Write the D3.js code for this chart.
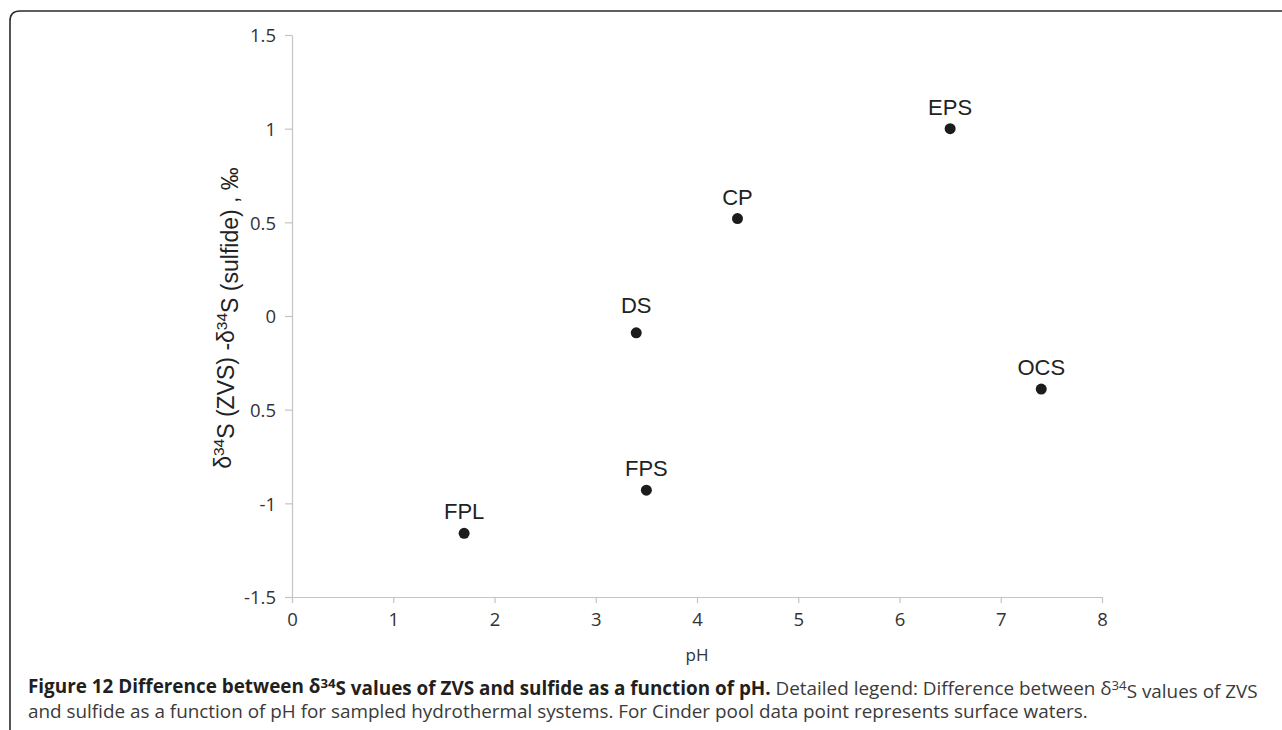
<!DOCTYPE html>
<html>
<head>
<meta charset="utf-8">
<script src="https://cdn.jsdelivr.net/npm/d3@7"></script>
<style>
  html, body { margin: 0; padding: 0; background: #fff; }
  svg { display: block; }
</style>
</head>
<body>
<div id="chart"></div>
<script>
// sampled hydrothermal systems
const sites = ['FPL', 'FPS', 'DS', 'CP', 'EPS', 'OCS'];
const phValues = [1.7, 3.5, 3.4, 4.4, 6.5, 7.4];
const deltaValues = [-1.16, -0.93, -0.09, 0.52, 1.0, -0.39];

// axis ticks (the original chart drops the minus sign on -0.5)
const xTicks = [0, 1, 2, 3, 4, 5, 6, 7, 8];
const yTicks = [1.5, 1, 0.5, 0, -0.5, -1, -1.5];
const yTickLabels = ['1.5', '1', '0.5', '0', '0.5', '-1', '-1.5'];

const WIDTH = 1282;
const HEIGHT = 730;

const svg = d3.select('#chart')
  .append('svg')
  .attr('width', WIDTH)
  .attr('height', HEIGHT);

// frame round the figure (only top and left edges show)
svg.append('path')
  .attr('d', 'M10,740 L10,21 Q10,11 20,11 L1290,11')
  .attr('fill', 'none')
  .attr('stroke', '#2b2b2b')
  .attr('stroke-width', 1.6);

const x = d3.scaleLinear().domain([0, 8]).range([292, 1102]);
const y = d3.scaleLinear().domain([-1.5, 1.5]).range([597, 35]);

const axisColor = '#c4c4c4';
const tickFont = '"Open Sans", "Segoe UI", sans-serif';

// x axis
const xAxis = svg.append('g')
  .attr('transform', `translate(0,${y(-1.5)})`)
  .call(d3.axisBottom(x).tickValues(xTicks).tickFormat(d3.format('d')).tickSize(6).tickSizeOuter(0).tickPadding(6));

// y axis
const yAxis = svg.append('g')
  .attr('transform', `translate(${x(0)},0)`)
  .call(d3.axisLeft(y).tickValues(yTicks)
    .tickFormat((d, i) => yTickLabels[i])
    .tickSize(7).tickSizeOuter(0).tickPadding(9));

[xAxis, yAxis].forEach(g => {
  g.select('.domain').attr('stroke', axisColor).attr('stroke-width', 1.2);
  g.selectAll('.tick line').attr('stroke', axisColor).attr('stroke-width', 1.2);
  g.selectAll('.tick text')
    .attr('fill', '#333')
    .style('font-family', tickFont)
    .style('font-size', '18.5px');
});
xAxis.selectAll('.tick text').attr('dy', '0.92em');
yAxis.selectAll('.tick text').attr('dy', '0.36em');

// axis titles
svg.append('text')
  .attr('x', 697)
  .attr('y', 661)
  .attr('text-anchor', 'middle')
  .attr('fill', '#333')
  .style('font-family', tickFont)
  .style('font-size', '17px')
  .text('pH');

const yTitle = svg.append('text')
  .attr('transform', 'translate(231,318) rotate(-90)')
  .attr('text-anchor', 'middle')
  .attr('fill', '#222')
  .style('font-family', '"Liberation Sans", Arial, sans-serif')
  .style('font-size', '23px');
yTitle.append('tspan').text('δ');
yTitle.append('tspan').attr('dy', '-0.45em').style('font-size', '15.5px').text('34');
yTitle.append('tspan').attr('dy', '0.45em').text('S (ZVS) -δ');
yTitle.append('tspan').attr('dy', '-0.45em').style('font-size', '15.5px').text('34');
yTitle.append('tspan').attr('dy', '0.45em').text('S (sulfide) , ‰');

// points and labels
const points = sites.map((s, i) => ({ site: s, ph: phValues[i], delta: deltaValues[i] }));
const labelGap = { DS: 20 };

svg.append('g').selectAll('circle')
  .data(points)
  .enter()
  .append('circle')
  .attr('cx', d => x(d.ph))
  .attr('cy', d => y(d.delta))
  .attr('r', 5.5)
  .attr('fill', '#1c1c1c');

svg.append('g').selectAll('text')
  .data(points)
  .enter()
  .append('text')
  .attr('x', d => x(d.ph))
  .attr('y', d => y(d.delta) - (labelGap[d.site] || 14))
  .attr('text-anchor', 'middle')
  .attr('fill', '#222')
  .style('font-family', '"Liberation Sans", Arial, sans-serif')
  .style('font-size', '22px')
  .text(d => d.site);

// caption
const capFont = '"Open Sans", sans-serif';
const cap1 = svg.append('text')
  .attr('x', 28).attr('y', 693)
  .style('font-family', capFont)
  .style('font-size', '16px');
cap1.append('tspan').attr('font-weight', 'bold').attr('fill', '#231f20')
  .text('Figure 12 Difference between δ');
cap1.append('tspan').attr('font-weight', 'bold').attr('fill', '#231f20')
  .attr('dy', '-0.4em').style('font-size', '0.7em').text('34');
cap1.append('tspan').attr('font-weight', 'bold').attr('fill', '#231f20')
  .attr('dy', '0.4em').text('S values of ZVS and sulfide as a function of pH.');
cap1.append('tspan').attr('fill', '#3a3a3a')
  .text(' Detailed legend: Difference between δ');
cap1.append('tspan').attr('fill', '#3a3a3a')
  .attr('dy', '-0.4em').style('font-size', '0.7em').text('34');
cap1.append('tspan').attr('fill', '#3a3a3a')
  .attr('dy', '0.4em').text('S values of ZVS');

const cap2 = svg.append('text')
  .attr('x', 28).attr('y', 718)
  .attr('fill', '#3a3a3a')
  .style('font-family', capFont)
  .style('font-size', '16px')
  .text('and sulfide as a function of pH for sampled hydrothermal systems. For Cinder pool data point represents surface waters.');

// fit the first caption line to the width it has in the figure
const natural = cap1.node().getComputedTextLength();
const capSize = 16 * 1230 / natural;
cap1.style('font-size', capSize + 'px');
cap2.style('font-size', capSize + 'px');
</script>
</body>
</html>
